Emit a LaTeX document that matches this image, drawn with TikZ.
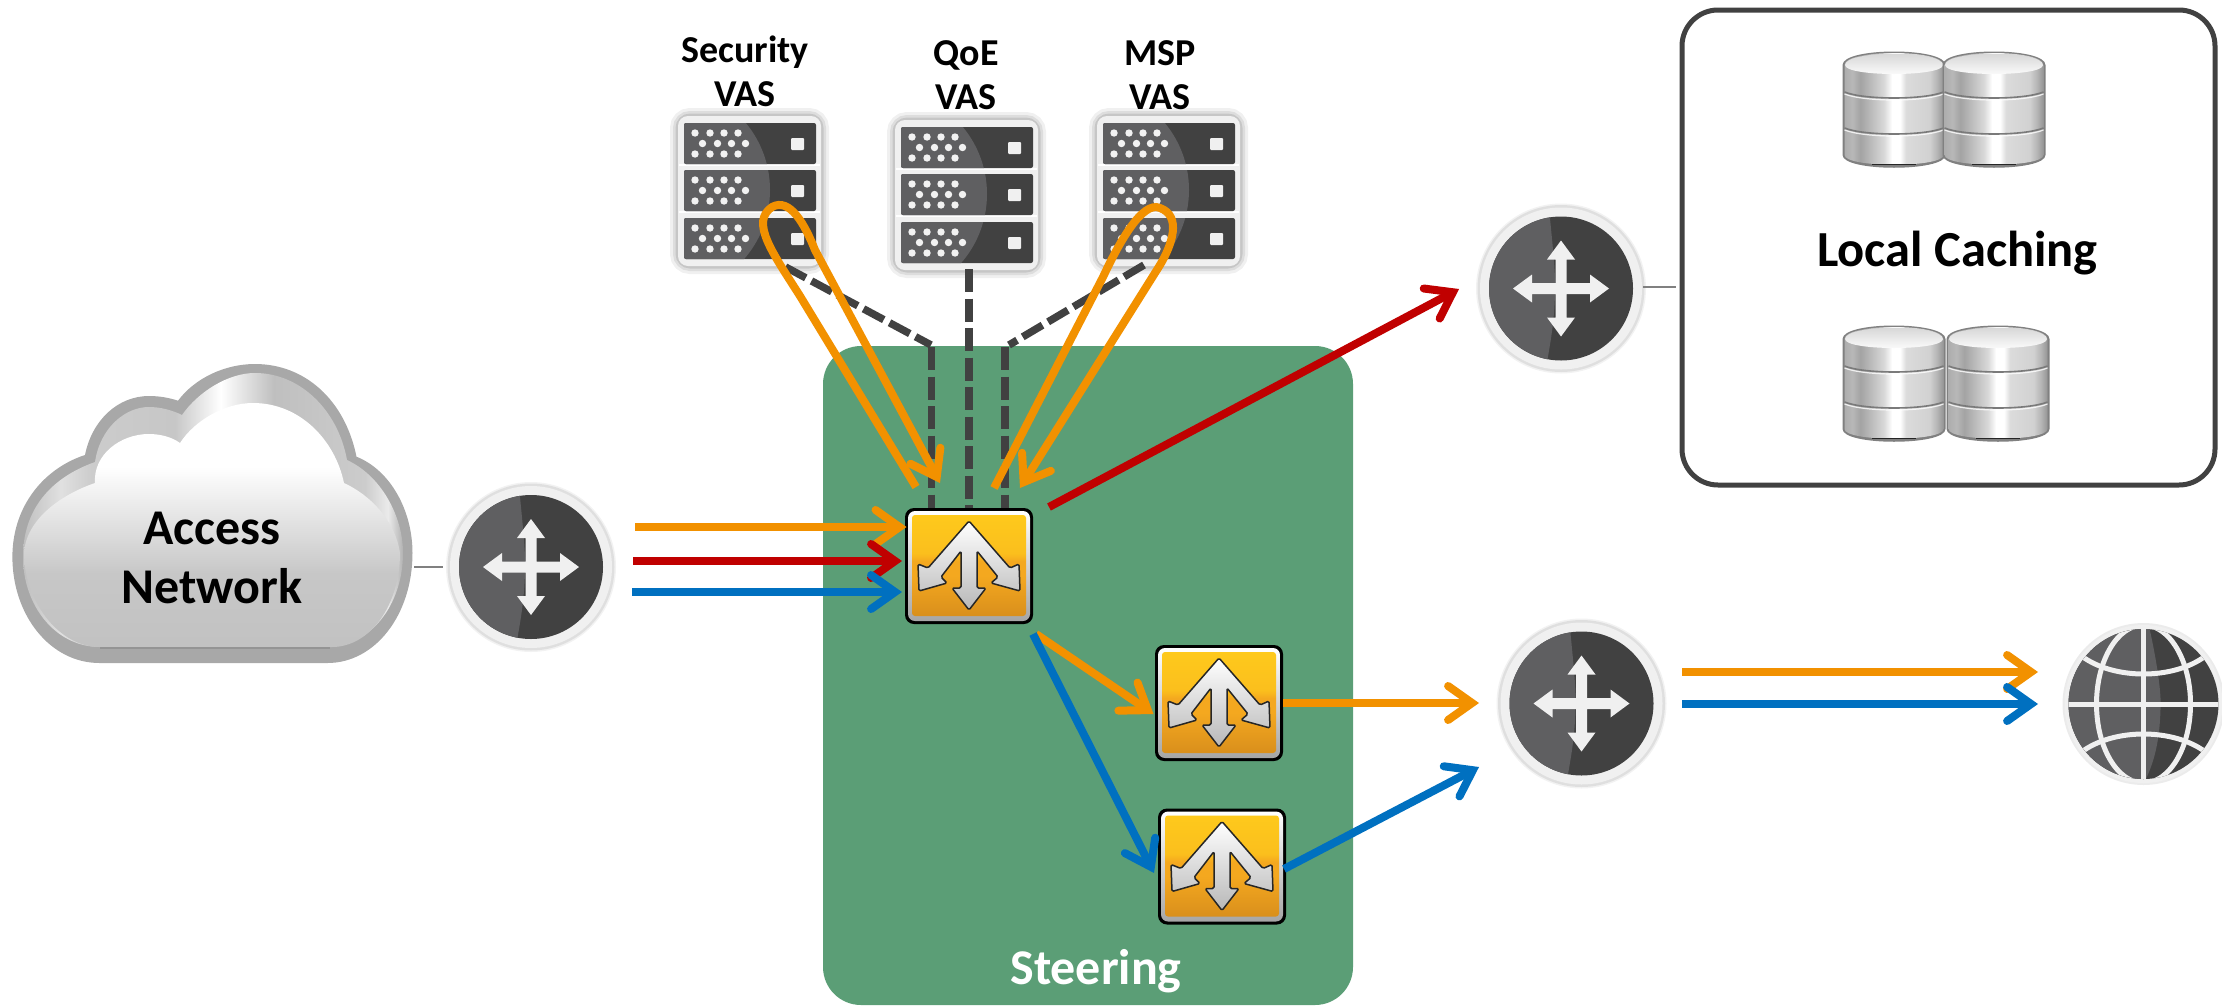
\documentclass[tikz,border=0pt]{standalone}
\usepackage{fontspec}
\setmainfont{Carlito}
\usetikzlibrary{arrows.meta}
\definecolor{cdark}{HTML}{414141}
\definecolor{clight}{HTML}{5F5F61}
\definecolor{cframe}{HTML}{F0F0F0}
\definecolor{cgreen}{HTML}{5B9E76}
\definecolor{corange}{HTML}{F29100}
\definecolor{cred}{HTML}{C00000}
\definecolor{cblue}{HTML}{0070C0}
\definecolor{swtop}{HTML}{FEC91C}
\definecolor{swmid}{HTML}{F4A81F}
\definecolor{swbot}{HTML}{D98F1C}
\pgfdeclarehorizontalshading{dbsilver}{100bp}{color(0bp)=(black!32);color(25bp)=(black!32);color(29bp)=(black!28);color(33bp)=(black!36);color(45bp)=(black!15);color(49bp)=(white);color(53bp)=(white);color(56bp)=(black!14);color(68bp)=(black!18);color(72bp)=(black!30);color(75bp)=(black!42);color(100bp)=(black!42)}
\pgfdeclarehorizontalshading{bandsilver}{100bp}{color(0bp)=(black!25);color(25bp)=(black!25);color(30bp)=(black!12);color(34bp)=(black!20);color(45bp)=(black!22);color(51bp)=(white);color(58bp)=(black!25);color(70bp)=(black!20);color(73bp)=(black!8);color(75bp)=(black!30);color(100bp)=(black!30)}
\pgfdeclareverticalshading{cloudface}{100bp}{color(0bp)=(black!24);color(25bp)=(black!24);color(40bp)=(black!22);color(52bp)=(black!10);color(62bp)=(white);color(75bp)=(white);color(100bp)=(white)}
\pgfdeclareverticalshading{switchface}{100bp}{color(0bp)=(swbot);color(25bp)=(swbot);color(45bp)=(swmid);color(52bp)=(swmid);color(56bp)=(swtop!70!swmid);color(75bp)=(swtop);color(100bp)=(swtop)}
\tikzset{
  x=1pt,y=-1pt,
  anchorbox/.style={inner sep=0pt,outer sep=0pt,draw=none,fill=none},
  vaslabel/.style={font=\fontsize{38}{44}\selectfont\bfseries,align=center,inner sep=0pt},
  biglabel/.style={font=\fontsize{50}{59}\selectfont\bfseries,align=center,inner sep=0pt},
  flow/.style={line width=8pt,line join=round,-{Straight Barb[length=24pt,width=34pt,line width=8pt,line cap=round,line join=miter]}},
  orangeflow/.style={flow,draw=corange},
  redflow/.style={flow,draw=cred},
  blueflow/.style={flow,draw=cblue},
  dashlink/.style={draw=cdark,line width=7.5pt,dash pattern=on 23pt off 6.5pt},
  thinlink/.style={draw=black!50,line width=2pt},
  pics/server/.style={code={
    \foreach \g/\o in {8/.06,5/.08,2.5/.1}{\draw[black,opacity=\o,line width=2*\g pt,rounded corners=12pt] (0,0) rectangle (143,150);}
    \fill[cframe,rounded corners=10pt] (0,0) rectangle (143,150);
    \draw[white,line width=1.2pt] (1,49) -- (142,49) (1,96) -- (142,96);
    \foreach \r in {7,54,102}{\fill[cdark,rounded corners=2pt] (6,\r) rectangle (138,\r+41);}
    \begin{scope}
      \clip (-13,74) circle[radius=105];
      \foreach \r in {7,54,102}{\fill[clight,rounded corners=2pt] (6,\r) rectangle (138,\r+41);}
    \end{scope}
    \foreach \r in {7,54,102}{
      \fill[cframe,rounded corners=1pt] (113,\r+15) rectangle (126,\r+27);
      \foreach \dx in {17,32,46,60}{
        \fill[white!95!black] (\dx,\r+10) circle[radius=3.7];
        \fill[white!95!black] (\dx,\r+31) circle[radius=3.7];
        \fill[white!95!black] (\dx+7.5,\r+20.5) circle[radius=3.7];
      }
    }
  }},
  pics/router/.style={code={
    \foreach \g/\o in {85/.05,83.5/.08}{\fill[black,opacity=\o] (0,0) circle[radius=\g];}
    \fill[cframe] (0,0) circle[radius=81];
    \fill[cdark] (0,0) circle[radius=72];
    \begin{scope}
      \clip (0,0) circle[radius=72];
      \fill[clight] (-80,-80) -- (-12,-80) .. controls (-8,-40) and (-5,-10) .. (-6,5) .. controls (-7,40) and (-12,60) .. (-15,80) -- (-80,80) -- cycle;
    \end{scope}
    \fill[cframe] (-5.5,-29) -- (-14,-29) -- (0,-48) -- (14,-29) -- (5.5,-29) -- (5.5,-5.5) -- (29,-5.5) -- (29,-14) -- (48,0) -- (29,14) -- (29,5.5) -- (5.5,5.5) -- (5.5,29) -- (14,29) -- (0,48) -- (-14,29) -- (-5.5,29) -- (-5.5,5.5) -- (-29,5.5) -- (-29,14) -- (-48,0) -- (-29,-14) -- (-29,-5.5) -- (-5.5,-5.5) -- cycle;
  }},
  pics/switchicon/.style={code={
    \fill[black,rounded corners=9pt] (-64,-58) rectangle (64,58);
    \shade[top color=white,bottom color=black!35,rounded corners=7pt] (-61,-55) rectangle (61,55);
    \shade[shading=switchface,rounded corners=3pt] (-57,-51) rectangle (57,50);
    \shade[top color=white,bottom color=black!28,draw=black!85,line width=1.5pt,line join=round,rounded corners=1.5pt]
      (0,-45) -- (41,2) -- (50,-2) -- (51,25) -- (22,17) -- (29,11) -- (8,-15) -- (8,22) -- (17,22) -- (0,44) -- (-17,22) -- (-8,22) -- (-8,-15) -- (-28,11) -- (-22,17) -- (-50,25) -- (-51,-2) -- (-41,2) -- cycle;
  }},
  pics/dbcyl/.style={code={
    \fill[black!50] (-1.5,13) .. controls (-1.5,-5) and (101.5,-5) .. (101.5,13) -- (101.5,103) .. controls (101.5,120) and (-1.5,120) .. (-1.5,103) -- cycle;
    \shade[shading=dbsilver] (0.5,13) .. controls (0.5,-3) and (99.5,-3) .. (99.5,13) -- (99.5,103) .. controls (99.5,116) and (0.5,116) .. (0.5,103) -- cycle;
    \shade[top color=black!18,bottom color=white] (1,13) .. controls (1,-2) and (99,-2) .. (99,13) .. controls (99,25) and (1,25) .. (1,13) -- cycle;
    \foreach \b in {40,76}{
      \draw[black!52,line width=1.6pt] (0.5,\b) .. controls (20,\b+8) and (80,\b+8) .. (99.5,\b);
      \draw[white,line width=1.2pt,opacity=.8] (0.5,\b+2) .. controls (20,\b+10) and (80,\b+10) .. (99.5,\b+2);
    }
    \draw[black!85,line width=1.2pt] (28,112.5) -- (72,112.5);
  }},
  pics/globe/.style={code={
    \fill[black,opacity=.08] (0,0) circle[radius=81];
    \fill[cframe] (0,0) circle[radius=79];
    \fill[cdark] (0,0) circle[radius=75];
    \begin{scope}
      \clip (0,0) circle[radius=75];
      \fill[clight] (-80,-80) -- (5,-80) .. controls (14,-40) and (18,-10) .. (17,5) .. controls (16,40) and (10,60) .. (0,80) -- (-80,80) -- cycle;
      \draw[cframe,line width=5pt] (-80,0) -- (80,0) (0,-80) -- (0,80);
      \draw[cframe,line width=5pt] (0,0) circle[x radius=47,y radius=79];
      \draw[cframe,line width=5pt] (-62,-48) .. controls (-30,-24) and (30,-24) .. (62,-48);
      \draw[cframe,line width=5pt] (-62,48) .. controls (-30,24) and (30,24) .. (62,48);
    \end{scope}
  }}
}
\begin{document}
\begin{tikzpicture}
\useasboundingbox (0,0) rectangle (2222,1007);
% steering area
\fill[cgreen,rounded corners=38pt] (823,346) rectangle (1353,1005);
\node[biglabel,text=white] (steerlabel) at (1096,971) {Steering};

% cloud
\fill[black!34] (99.5,663) .. controls (50,663) and (12.4,615) .. (12.4,557) .. controls (12.4,505) and (45,468) .. (85,455) .. controls (92,420) and (118,396) .. (149,396) .. controls (160,396) and (170,398) .. (178,400.7) .. controls (195,378) and (225,364) .. (255,364) .. controls (305,364) and (345,400) .. (356.5,456.7) .. controls (390,470) and (412.5,510) .. (412.5,553) .. controls (412.5,615) and (375,663) .. (327.5,663) -- cycle;
\shade[shading=bandsilver] (100,647) .. controls (55,647) and (23,605) .. (23,557) .. controls (23,510) and (50,478) .. (95,462) .. controls (100,428) and (125,407) .. (149,407) .. controls (160,407) and (172,410) .. (182,415) .. controls (198,392) and (228,373) .. (255,373) .. controls (300,373) and (338,410) .. (347,460) .. controls (380,475) and (403,515) .. (403,553) .. controls (403,605) and (370,647) .. (327,647) -- cycle;
\shade[shading=cloudface] (100,647) .. controls (58,647) and (24,600) .. (24,553) .. controls (26,520) and (60,495) .. (95,483) .. controls (93,455) and (120,434) .. (149,434) .. controls (160,434) and (172,437) .. (180,443) .. controls (195,420) and (225,403) .. (253,403) .. controls (300,403) and (335,440) .. (344,483) .. controls (370,495) and (395,520) .. (400,553) .. controls (400,605) and (370,647) .. (332,647) -- cycle;
\draw[black!42,line width=2pt] (100,648) -- (330,648);
\node[biglabel] (cloudlabel) at (212,558) {Access\\Network};
\coordinate (cloudedge) at (414,567);
\coordinate (r1stub) at (443,567);
\draw[thinlink] (cloudedge) -- (r1stub);

% routers and globe
\pic at (531,567) {router};
\node[anchorbox,minimum size=162pt] (r1) at (531,567) {};
\pic at (1561,288.5) {router};
\node[anchorbox,minimum size=162pt] (r2) at (1561,288.5) {};
\pic at (1581.5,703.5) {router};
\node[anchorbox,minimum size=162pt] (r3) at (1581.5,703.5) {};
\pic at (2143.5,704) {globe};
\node[anchorbox,minimum size=158pt] (globe) at (2143.5,704) {};

% local caching
\node[draw=cdark,line width=5pt,rounded corners=36pt,minimum width=533pt,minimum height=475pt,inner sep=0pt] (cache) at (1948.5,247.5) {};
\coordinate (r2stub) at (1643,287);
\coordinate (cachestub) at (1676,287);
\draw[thinlink] (r2stub) -- (cachestub);
\pic at (1844,52) {dbcyl};
\pic at (1944,52) {dbcyl};
\pic at (1844,326) {dbcyl};
\pic at (1948,326) {dbcyl};
\node[biglabel,font=\fontsize{50.5}{59}\selectfont\bfseries] (cachelabel) at (1957.5,253) {Local Caching};

% servers
\pic at (678,116) {server};
\node[anchorbox,minimum width=143pt,minimum height=150pt] (svA) at (749.5,191) {};
\pic at (895,120) {server};
\node[anchorbox,minimum width=143pt,minimum height=150pt] (svB) at (966.5,195) {};
\pic at (1097,116) {server};
\node[anchorbox,minimum width=143pt,minimum height=150pt] (svC) at (1168.5,191) {};
\node[vaslabel] (labA) at (745,71) {Security\\VAS};
\node[vaslabel] (labB) at (966,75) {QoE\\VAS};
\node[vaslabel] (labC) at (1160,75) {MSP\\VAS};

% switch nodes
\node[anchorbox,minimum width=128pt,minimum height=116pt] (sw1) at (969,566) {};
\node[anchorbox,minimum width=128pt,minimum height=116pt] (sw2) at (1219,703) {};
\node[anchorbox,minimum width=128pt,minimum height=116pt] (sw3) at (1222,866.5) {};

% dashed links
\coordinate (dA1) at (785.5,267);
\coordinate (dA2) at (931,345);
\coordinate (dA3) at (931.5,347);
\coordinate (dA4) at (931.5,508);
\coordinate (dB1) at (969,269);
\coordinate (dB2) at (969,508);
\coordinate (dC1) at (1144,265);
\coordinate (dC2) at (1009,345);
\coordinate (dC3) at (1005,347);
\coordinate (dC4) at (1005,508);
\draw[dashlink] (dA1) -- (dA2);
\draw[dashlink] (dA3) -- (dA4);
\draw[dashlink] (dB1) -- (dB2);
\draw[dashlink] (dC1) -- (dC2);
\draw[dashlink] (dC3) -- (dC4);

\pic at (969,566) {switchicon};
\pic at (1219,703) {switchicon};
\pic at (1222,866.5) {switchicon};

% loops
\coordinate (lA0) at (916,487);
\coordinate (lA1) at (940,483);
\coordinate (lC0) at (994,488);
\coordinate (lC1) at (1020,488);
\draw[orangeflow] (lA0) -- (800,296) .. controls (772,252) and (750,222) .. (772,207) .. controls (790,197) and (805,225) .. (815,250) -- (lA1);
\draw[orangeflow] (lC0) -- (1103,277) .. controls (1118,245) and (1142,200) .. (1160,208) .. controls (1182,216) and (1172,245) .. (1160,265) -- (lC1);

% inbound flows
\coordinate (inO) at (635,527);
\coordinate (inR) at (633,561);
\coordinate (inB) at (632,592);
\coordinate (swO) at (906.5,527);
\coordinate (swR) at (902,561);
\coordinate (swB) at (902,592);
\draw[orangeflow] (inO) -- (swO);
\draw[redflow] (inR) -- (swR);
\draw[blueflow] (inB) -- (swB);

% steered flows
\coordinate (rS) at (1049,507);
\coordinate (rE) at (1459,289);
\draw[redflow] (rS) -- (rE);
\coordinate (oS) at (1036,634);
\coordinate (oE) at (1153.5,714);
\coordinate (bS) at (1033,634);
\coordinate (bE) at (1154,873);
\draw[orangeflow] (oS) -- (oE);
\draw[blueflow] (bS) -- (bE);
\coordinate (o2E) at (1479,703);
\coordinate (b2E) at (1479,767);
\coordinate (b2S) at (1284,869);
\draw[orangeflow] (sw2.east) -- (o2E);
\draw[blueflow] (b2S) -- (b2E);

% outbound flows
\coordinate (o3S) at (1682,672);
\coordinate (o3E) at (2038,672);
\coordinate (b3S) at (1682,704);
\coordinate (b3E) at (2038,704);
\draw[orangeflow] (o3S) -- (o3E);
\draw[blueflow] (b3S) -- (b3E);
\end{tikzpicture}
\end{document}
